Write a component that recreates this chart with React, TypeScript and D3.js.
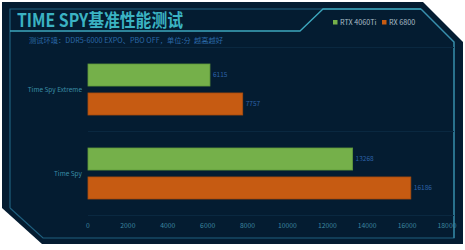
import React from "react";
import * as d3 from "d3";

const categories = ["Time Spy Extreme", "Time Spy"];
const seriesNames = ["RTX 4060Ti", "RX 6800"];
const rtx4060ti = [6115, 13268];
const rx6800 = [7757, 16186];
const xTicks = [0, 2000, 4000, 6000, 8000, 10000, 12000, 14000, 16000, 18000];

const W = 465;
const H = 250;
const BG = "#041c31";
const colors = ["#75b04a", "#c65b12"];
const strokes = ["#5f9a3a", "#a84c0e"];

export default function App() {
  const x = d3.scaleLinear().domain([0, 18000]).range([88, 447]);
  const y = d3.scaleBand().domain(categories).range([47.5, 215.5]).padding(0);
  const sub = d3
    .scaleBand()
    .domain(seriesNames)
    .range([16.5, 67.5])
    .paddingInner(0.24)
    .paddingOuter(0);
  const series = [rtx4060ti, rx6800];
  const lineGen = d3.line();

  const outer: [number, number][] = [
    [2, 2], [423, 2], [463, 42], [463, 244], [42, 244], [2, 208],
  ];
  const frame: [number, number][] = [
    [10, 208], [10, 9], [421, 9], [454, 42], [454, 238], [43, 238], [10, 208],
  ];
  const titleLine: [number, number][] = [
    [10, 31], [300, 31], [323, 9], [421, 9],
  ];
  const sepLines = [47.5, 131.5, 215.5];

  return (
    <svg
      width={W}
      height={H}
      style={{ position: "absolute", left: 0, top: 0, background: "#ffffff" }}
      fontFamily="'Noto Sans CJK SC', 'Noto Sans', sans-serif"
    >
      <path d={lineGen(outer) + "Z"} fill={BG} />
      <path d={lineGen(frame) || ""} fill="none" stroke="#1f5f7e" strokeWidth={1.2} />
      <path d={lineGen([[421, 9], [454, 42], [454, 238]]) || ""} fill="none" stroke="#3a90ad" strokeWidth={1.2} />
      <path d={lineGen(titleLine) || ""} fill="none" stroke="#3da6bd" strokeWidth={1.3} />

      <text
        x={17}
        y={27}
        fontSize={18}
        fontWeight="bold"
        fill="#3bb3c3"
        textLength={166}
        lengthAdjust="spacingAndGlyphs"
      >
        TIME SPY基准性能测试
      </text>
      <text
        x={29}
        y={42.5}
        fontSize={7.2}
        fill="#2b69a8"
        textLength={194}
        lengthAdjust="spacing"
      >
        测试环境：DDR5-6000 EXPO、PBO OFF，单位:分&#160;&#160;越高越好
      </text>

      {seriesNames.map((s, i) => (
        <g key={s} transform={`translate(${i === 0 ? 333 : 382},0)`}>
          <rect x={0} y={20} width={4.5} height={4.5} fill={colors[i]} />
          <text x={7} y={24.8} fontSize={7.2} fill="#a8bcc6">
            {s}
          </text>
        </g>
      ))}

      {sepLines.map((v) => (
        <line key={v} x1={88} x2={454} y1={v} y2={v} stroke="#0a2840" strokeWidth={1} />
      ))}

      {categories.map((c, ci) => (
        <g key={c} transform={`translate(0,${y(c)})`}>
          <text
            x={82}
            y={y.bandwidth() / 2 + 2.2}
            fontSize={6.5}
            fill="#3a8ea6"
            textAnchor="end"
          >
            {c}
          </text>
          {seriesNames.map((s, si) => {
            const v = series[si][ci];
            const yy = sub(s) || 0;
            return (
              <g key={s}>
                <rect
                  x={x(0)}
                  y={yy}
                  width={x(v) - x(0)}
                  height={sub.bandwidth()}
                  fill={colors[si]}
                  stroke={strokes[si]}
                  strokeWidth={0.8}
                />
                <text
                  x={x(v) + 3}
                  y={yy + sub.bandwidth() / 2 + 2.3}
                  fontSize={6.5}
                  fill="#2d62a6"
                >
                  {v}
                </text>
              </g>
            );
          })}
        </g>
      ))}

      {xTicks.map((t) => (
        <text
          key={t}
          x={x(t)}
          y={228}
          fontSize={6.8}
          fill="#3d87a0"
          textAnchor="middle"
        >
          {t}
        </text>
      ))}
    </svg>
  );
}
